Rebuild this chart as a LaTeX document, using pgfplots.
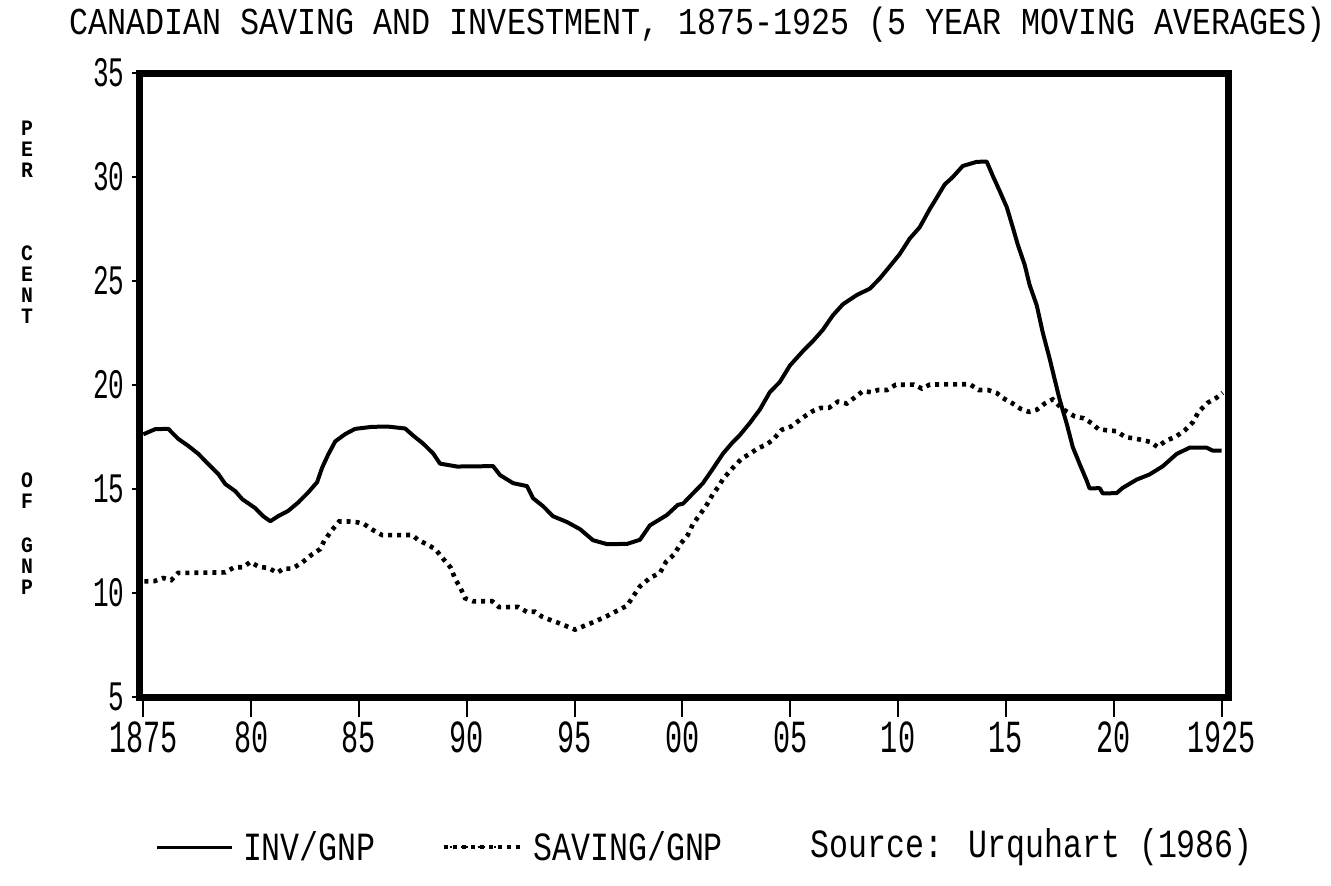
\documentclass[border=0pt]{standalone}
\usepackage{fontspec}
\usepackage{pgfplots}
\pgfplotsset{compat=1.18}
\setmainfont{Liberation Mono}
\newfontfamily\titlefont[FakeStretch=0.835]{Liberation Mono}
\newfontfamily\tickfont[FakeStretch=0.62]{Liberation Mono}
\newfontfamily\legfont[FakeStretch=0.79]{Liberation Mono}
\newfontfamily\labfont[FakeStretch=0.9]{Liberation Mono}

\pgfplotstableread{
x y
1875.00 17.63
1875.56 17.88
1876.16 17.89
1876.62 17.41
1877.09 17.07
1877.55 16.69
1878.01 16.20
1878.48 15.72
1878.80 15.24
1879.26 14.90
1879.59 14.51
1880.19 14.08
1880.56 13.69
1880.89 13.45
1881.26 13.70
1881.72 13.95
1882.18 14.35
1882.65 14.84
1883.06 15.33
1883.29 16.02
1883.57 16.65
1883.90 17.29
1884.36 17.64
1884.82 17.89
1885.61 17.99
1886.35 18.00
1887.14 17.91
1887.51 17.57
1887.97 17.19
1888.44 16.71
1888.76 16.22
1889.55 16.08
1891.22 16.10
1891.54 15.67
1892.15 15.28
1892.79 15.14
1893.07 14.56
1893.54 14.17
1894.00 13.69
1894.65 13.41
1895.25 13.07
1895.85 12.54
1896.50 12.35
1897.43 12.36
1898.03 12.56
1898.49 13.25
1899.28 13.75
1899.79 14.24
1900.02 14.29
1900.49 14.79
1900.95 15.28
1901.41 15.97
1901.88 16.70
1902.29 17.20
1902.66 17.59
1903.13 18.18
1903.59 18.82
1904.05 19.65
1904.52 20.15
1904.98 20.93
1905.58 21.62
1906.05 22.11
1906.51 22.65
1906.97 23.34
1907.44 23.88
1908.09 24.33
1908.69 24.63
1909.15 25.12
1909.62 25.71
1910.08 26.30
1910.54 27.04
1911.00 27.58
1911.47 28.46
1911.79 29.00
1912.16 29.64
1912.53 29.99
1913.00 30.53
1913.65 30.73
1914.11 30.74
1914.39 30.06
1914.71 29.33
1915.04 28.55
1915.32 27.58
1915.55 26.75
1915.87 25.78
1916.10 24.81
1916.43 23.83
1916.71 22.52
1917.03 21.26
1917.26 20.28
1917.49 19.31
1917.82 18.14
1918.10 17.02
1918.42 16.20
1918.74 15.42
1918.88 15.03
1919.35 15.04
1919.49 14.79
1920.13 14.80
1920.41 15.05
1921.06 15.45
1921.66 15.70
1922.27 16.09
1922.91 16.68
1923.52 16.99
1924.30 16.99
1924.58 16.85
1925.00 16.85
}\invtable

\pgfplotstableread{
x y
1875.05 10.56
1875.51 10.57
1875.93 10.72
1876.30 10.62
1876.62 10.97
1877.04 10.97
1878.80 10.99
1879.22 11.24
1879.63 11.24
1879.96 11.49
1880.38 11.25
1880.79 11.21
1881.21 10.97
1881.49 11.17
1881.90 11.17
1882.37 11.47
1882.83 11.86
1883.20 12.11
1883.39 12.51
1883.76 13.04
1884.08 13.44
1884.50 13.44
1884.92 13.40
1885.24 13.31
1885.66 13.02
1886.08 12.78
1887.47 12.79
1887.74 12.55
1888.11 12.36
1888.53 12.12
1888.95 11.59
1889.27 11.20
1889.46 10.67
1889.69 10.28
1889.92 9.75
1890.29 9.60
1891.17 9.61
1891.50 9.32
1892.38 9.33
1892.79 9.09
1893.16 9.10
1893.49 8.86
1893.86 8.71
1894.23 8.57
1895.02 8.24
1895.85 8.59
1896.18 8.74
1896.50 8.89
1896.96 9.14
1897.43 9.39
1897.71 9.83
1898.03 10.32
1898.49 10.72
1898.96 10.97
1899.24 11.50
1899.61 11.85
1899.93 12.39
1900.25 12.79
1900.49 13.32
1900.81 13.77
1901.14 14.26
1901.41 14.75
1901.69 15.14
1901.88 15.48
1902.34 16.02
1902.76 16.47
1903.17 16.72
1903.50 16.96
1903.87 17.12
1904.19 17.36
1904.61 17.85
1905.03 18.00
1905.35 18.25
1905.68 18.50
1906.05 18.75
1906.42 18.90
1906.79 18.90
1907.21 19.20
1907.62 19.11
1907.99 19.40
1908.36 19.70
1908.78 19.65
1909.06 19.76
1909.48 19.76
1909.89 20.01
1910.73 20.02
1911.10 19.83
1911.47 20.02
1913.32 20.04
1913.74 19.76
1914.16 19.76
1914.57 19.62
1914.85 19.38
1915.27 19.14
1915.69 18.85
1916.06 18.71
1916.43 18.81
1916.80 19.11
1917.17 19.31
1917.59 18.87
1918.19 18.49
1918.61 18.40
1918.98 18.16
1919.30 17.87
1919.72 17.82
1920.13 17.78
1920.55 17.49
1920.92 17.44
1921.34 17.35
1921.71 17.26
1922.03 17.02
1922.40 17.31
1922.87 17.51
1923.28 17.81
1923.66 18.20
1923.93 18.70
1924.35 19.14
1924.77 19.39
1925.05 19.63
}\savtable

\begin{document}
\begin{tikzpicture}[x=1pt,y=1pt]
\useasboundingbox (0,0) rectangle (665.5,442.5);
\begin{axis}[
  at={(69.5pt,94pt)}, anchor=south west,
  width=544.5pt, height=312pt, scale only axis,
  xmin=1874.8, xmax=1925.3, ymin=5, ymax=35,
  axis line style={line width=3.5pt, line cap=rect},
  tick align=outside,
  xtick pos=bottom, ytick pos=left,
  xtick=\empty,
  minor xtick={1875,1876,...,1925},
  minor tick length=4pt,
  major tick length=3.5pt,
  tick style={black, line width=1pt},
  extra x ticks={1875,1880,1885,1890,1895,1900,1905,1910,1915,1920,1925},
  extra x tick labels={1875,80,85,90,95,00,05,10,15,20,1925},
  extra x tick style={major tick length=10pt},
  xticklabel style={font=\tickfont\fontsize{23pt}{23pt}\selectfont, anchor=base, inner sep=0pt, yshift=-17.5pt},
  ytick={5,10,15,20,25,30,35},
  yticklabels={5,10,15,20,25,30,35},
  yticklabel style={font=\tickfont\fontsize{21pt}{21pt}\selectfont, anchor=east, inner sep=0pt, xshift=-3.5pt},
  legend columns=2,
  legend cell align=left,
  legend style={at={(0.0147,-0.2404)}, anchor=west, draw=none, fill=none,
    inner sep=0pt, outer sep=0pt, font=\legfont\fontsize{20pt}{20pt}\selectfont,
    nodes={inner sep=0pt},
    /tikz/every odd column/.append style={column sep=5pt},
    /tikz/every even column/.append style={column sep=33pt}},
]
\addplot[black, line width=2pt, line join=round,
  legend image code/.code={\draw[black,line width=1.5pt] (0pt,0pt) -- (37.5pt,0pt);}]
  table[x=x,y=y] {\invtable};
\addlegendentry{INV/GNP}
\addplot[black, line width=2.3pt, dash pattern=on 2pt off 2.5pt,
  legend image code/.code={\draw[black,line width=1.2pt, dash pattern=on 1pt off 1.8pt] (0pt,0pt) -- (27.5pt,0pt); \path (0pt,0pt) -- (38.5pt,0pt);}]
  table[x=x,y=y] {\savtable};
\addlegendentry{SAVING/GNP}
\end{axis}
\node[anchor=base, inner sep=0pt, font=\titlefont\fontsize{19pt}{19pt}\selectfont] at (348.75,425) {CANADIAN SAVING AND INVESTMENT, 1875-1925 (5 YEAR MOVING AVERAGES)};
\node[anchor=west, inner sep=0pt, font=\legfont\fontsize{20pt}{20pt}\selectfont] at (405,19) {Source: Urquhart (1986)};
\foreach \ch/\yy in {P/378.5, E/368, R/357.5, C/316, E/305.5, N/295, T/284.5, O/202.5, F/192, G/170, N/159.5, P/149} {
  \node[anchor=base, inner sep=0pt, font=\labfont\bfseries\fontsize{11pt}{11pt}\selectfont] at (13.5,\yy-3.6) {\ch};
}
\end{tikzpicture}
\end{document}
